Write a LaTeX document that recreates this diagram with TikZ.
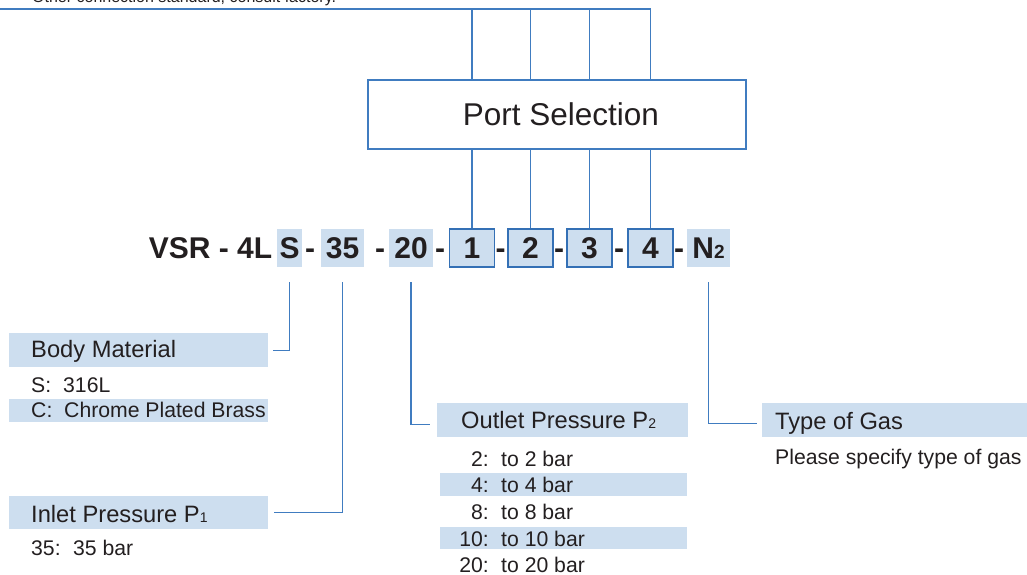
\documentclass[tikz,border=0pt]{standalone}
\usepackage{fontspec}
\setmainfont{Liberation Sans}
\definecolor{hl}{RGB}{205,222,239}
\definecolor{ln}{RGB}{64,124,192}
\definecolor{bx}{RGB}{52,112,181}
\definecolor{tx}{RGB}{35,31,32}
\newcommand\cf{\fontsize{30}{30}\selectfont\bfseries}
\newcommand\fh{\fontsize{23.7}{24}\selectfont}
\newcommand\fs{\fontsize{21.2}{22}\selectfont}
\newcommand\fsub{\fontsize{14}{14}\selectfont}
\begin{document}
\begin{tikzpicture}[x=1pt,y=-1pt,
  every node/.style={text=tx},
  code/.style={inner sep=0, text height=21.5, text depth=0, font=\cf},
  hlbox/.style={code, fill=hl, minimum height=38},
  numbox/.style={hlbox, draw=bx, line width=1.3},
  hlrect/.style={fill=hl, inner sep=0, anchor=north west},
  lbl/.style={inner sep=0, anchor=base west},
  lblr/.style={inner sep=0, anchor=base east},
  conn/.style={draw=ln, line width=1.3}]
\useasboundingbox (0,0) rectangle (1027,575);
\clip (0,0) rectangle (1027,575);

% top note (cut off in the reference)
\node[lbl, font=\fontsize{16}{16}\selectfont] (note) at (32,2.5) {Other connection standard, consult factory.};

% Port selection
\node[draw=ln, line width=1.8, minimum width=378, minimum height=69, inner sep=0,
      font=\fontsize{31.5}{32}\selectfont] (ps) at (557,114.5) {\hspace{8pt}Port Selection};

% code line
\node[code] (vsr) at (210.5,248) {VSR - 4L};
\node[hlbox, minimum width=25] (sS) at (289.5,248) {S};
\node[code] (d1) at (310,248) {-};
\node[hlbox, minimum width=43] (s35) at (342.5,248) {35};
\node[code] (d2) at (380,248) {-};
\node[hlbox, minimum width=44] (s20) at (411,248) {20};
\node[code] (d3) at (440,248) {-};
\node[numbox, minimum width=45] (b1) at (472,248) {1};
\node[code] (d4) at (500.5,248) {-};
\node[numbox, minimum width=45] (b2) at (530.5,248) {2};
\node[code] (d5) at (559,248) {-};
\node[numbox, minimum width=45] (b3) at (589.5,248) {3};
\node[code] (d6) at (619,248) {-};
\node[numbox, minimum width=45] (b4) at (650.5,248) {4};
\node[code] (d7) at (679,248) {-};
\node[hlbox, minimum width=43] (sN) at (708.5,248) {N{\fontsize{19}{19}\selectfont 2}};

% top connectors
\coordinate (top) at (0,9);
\draw[conn] (top) -| (b4.north |- ps.north);
\foreach \b in {b1,b2,b3}{
  \draw[conn] (\b.north |- top) -- (\b.north |- ps.north);
}
\foreach \b in {b1,b2,b3,b4}{
  \draw[conn] (\b.north |- ps.south) -- (\b.north);
}

% Body material
\node[hlrect, minimum width=259, minimum height=34] (bm) at (9,333) {};
\node[lbl, font=\fh] (bmt) at (31,357) {Body Material};
\node[lbl, font=\fs] (bms) at (31,392) {S:};
\node[lbl, font=\fs] (bmsv) at (63,392) {316L};
\node[hlrect, minimum width=259, minimum height=23] (bmc) at (9,399) {};
\node[lbl, font=\fs] (bmcl) at (31,417) {C:};
\node[lbl, font=\fs] (bmcv) at (64,417) {Chrome Plated Brass};

% Inlet pressure
\node[hlrect, minimum width=259, minimum height=33] (ip) at (9,496) {};
\node[lbl, font=\fh] (ipt) at (31,522) {Inlet Pressure P{\fsub 1}};
\node[lbl, font=\fs] (ipl) at (31,555) {35:};
\node[lbl, font=\fs] (ipv) at (73,555) {35 bar};

% Outlet pressure
\node[hlrect, minimum width=251, minimum height=34] (op) at (437,403) {};
\node[lbl, font=\fh] (opt) at (461,428) {Outlet Pressure P{\fsub 2}};
\node[hlrect, minimum width=247, minimum height=23] (or2) at (440,473) {};
\node[hlrect, minimum width=247, minimum height=22] (or4) at (440,527) {};
\node[lblr, font=\fs] (o1l) at (489,466) {2:};
\node[lbl, font=\fs] (o1v) at (501,466) {to 2 bar};
\node[lblr, font=\fs] (o2l) at (489,492) {4:};
\node[lbl, font=\fs] (o2v) at (501,492) {to 4 bar};
\node[lblr, font=\fs] (o3l) at (489,519) {8:};
\node[lbl, font=\fs] (o3v) at (501,519) {to 8 bar};
\node[lblr, font=\fs] (o4l) at (489,546) {10:};
\node[lbl, font=\fs] (o4v) at (501,546) {to 10 bar};
\node[lblr, font=\fs] (o5l) at (489,572) {20:};
\node[lbl, font=\fs] (o5v) at (501,572) {to 20 bar};

% Type of gas
\node[hlrect, minimum width=270, minimum height=34] (tg) at (762,403) {};
\node[lbl, font=\fh] (tgt) at (775,429) {Type of Gas};
\node[lbl, font=\fs] (tgv) at (775,464) {Please specify type of gas};

% lower connectors
\draw[conn] ([yshift=-15pt]sS.south) |- ([xshift=5pt]bm.east);
\draw[conn] ([yshift=-15pt]s35.south) |- ([xshift=6pt]ip.east);
\draw[conn] ([yshift=-15pt]s20.south) |- ([xshift=-7pt,yshift=-4pt]op.west);
\draw[conn] ([yshift=-15pt]sN.south) |- ([xshift=-5pt,yshift=-3pt]tg.west);
\end{tikzpicture}
\end{document}
